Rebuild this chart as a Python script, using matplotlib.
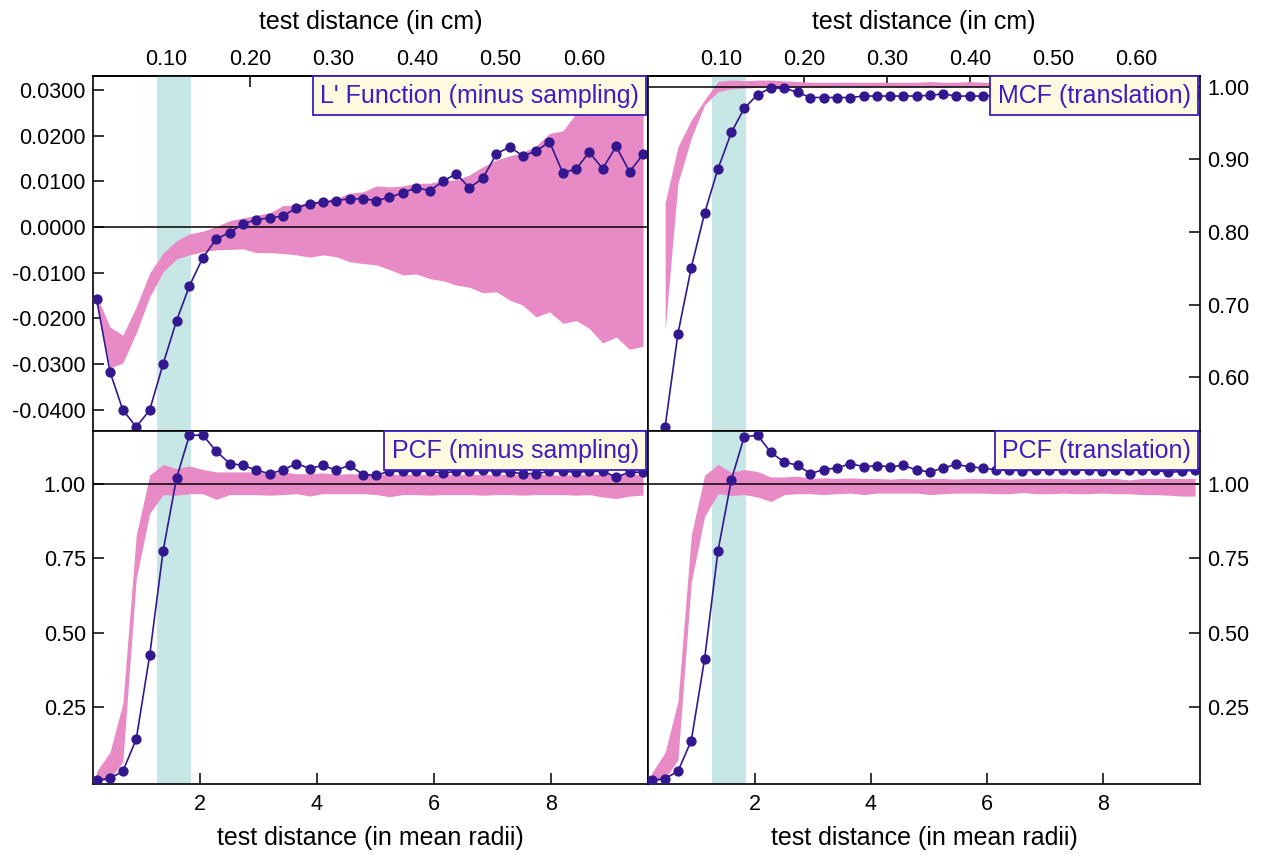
import numpy as np
import matplotlib
matplotlib.use('Agg')
import matplotlib.pyplot as plt
from matplotlib.ticker import FormatStrFormatter

plt.rcParams['font.family'] = ['Liberation Sans', 'DejaVu Sans']
plt.rcParams['axes.unicode_minus'] = False

# test distances (in mean radii)
radii = [0.23, 0.46, 0.68, 0.91, 1.14, 1.37, 1.60, 1.82, 2.05, 2.28,
         2.51, 2.74, 2.96, 3.19, 3.42, 3.65, 3.88, 4.10, 4.33, 4.56,
         4.79, 5.02, 5.24, 5.47, 5.70, 5.93, 6.16, 6.38, 6.61, 6.84,
         7.07, 7.30, 7.52, 7.75, 7.98, 8.21, 8.44, 8.66, 8.89, 9.12,
         9.35, 9.58]
CM_PER_RADIUS = 0.07
shade = (1.26, 1.855)

# L' function (minus sampling)
lfun = [-0.0157, -0.0317, -0.0401, -0.0438, -0.0401, -0.0300, -0.0205, -0.0129, -0.0067, -0.0026,
        -0.0012, 0.0007, 0.0016, 0.0020, 0.0024, 0.0042, 0.0051, 0.0054, 0.0058, 0.0062,
        0.0062, 0.0058, 0.0065, 0.0075, 0.0086, 0.0080, 0.0100, 0.0117, 0.0086, 0.0107,
        0.0160, 0.0176, 0.0156, 0.0166, 0.0187, 0.0118, 0.0128, 0.0164, 0.0128, 0.0177,
        0.0121, 0.0159]
lfun_hi = [-0.0150, -0.0219, -0.0237, -0.0175, -0.0101, -0.0057, -0.0030, -0.0015, -0.0009, 0.0001,
           0.0014, 0.0020, 0.0026, 0.0031, 0.0047, 0.0048, 0.0056, 0.0059, 0.0063, 0.0074,
           0.0077, 0.0090, 0.0088, 0.0090, 0.0096, 0.0096, 0.0102, 0.0103, 0.0114, 0.0132,
           0.0147, 0.0156, 0.0163, 0.0178, 0.0205, 0.0211, 0.0250, 0.0246, 0.0250, 0.0264,
           0.0275, 0.0275]
lfun_lo = [-0.0165, -0.0309, -0.0298, -0.0232, -0.0153, -0.0098, -0.0070, -0.0061, -0.0054, -0.0050,
           -0.0049, -0.0048, -0.0056, -0.0056, -0.0058, -0.0061, -0.0066, -0.0061, -0.0065, -0.0076,
           -0.0080, -0.0083, -0.0093, -0.0105, -0.0103, -0.0113, -0.0118, -0.0127, -0.0132, -0.0144,
           -0.0142, -0.0160, -0.0171, -0.0197, -0.0186, -0.0211, -0.0205, -0.0222, -0.0254, -0.0241,
           -0.0268, -0.0261]

# MCF (translation), starts at the second distance
mcf = [0.532, 0.660, 0.751, 0.826, 0.887, 0.937, 0.970, 0.989, 0.998, 0.998,
       0.992, 0.985, 0.985, 0.985, 0.985, 0.987, 0.987, 0.987, 0.987, 0.987,
       0.988, 0.990, 0.987, 0.987, 0.987, 0.988, 0.987, 0.988, 0.988, 0.987,
       0.988, 0.988, 0.987, 0.988, 0.988, 0.987, 0.988, 0.988, 0.987, 0.988,
       0.988]
mcf_hi = [0.840, 0.917, 0.954, 0.982, 1.007, 1.009, 1.008, 1.009, 1.009, 1.008,
          1.007, 1.006, 1.006, 1.006, 1.006, 1.006, 1.006, 1.006, 1.006, 1.006,
          1.007, 1.006, 1.006, 1.007, 1.006, 1.006, 1.006, 1.007, 1.006, 1.006,
          1.006, 1.007, 1.006, 1.006, 1.006, 1.006, 1.007, 1.006, 1.006, 1.006,
          1.006]
mcf_lo = [0.665, 0.867, 0.929, 0.975, 0.993, 0.997, 0.998, 0.999, 0.999, 0.999,
          0.999, 1.000, 0.999, 1.000, 1.000, 0.999, 1.000, 1.000, 0.999, 1.000,
          1.000, 0.999, 1.000, 1.000, 1.000, 0.999, 1.000, 1.000, 1.000, 0.999,
          1.000, 1.000, 1.000, 0.999, 1.000, 1.000, 1.000, 1.000, 0.999, 1.000,
          1.000]

# PCF (minus sampling)
pcf_ms = [0.006, 0.013, 0.036, 0.144, 0.425, 0.775, 1.019, 1.162, 1.162, 1.108,
          1.067, 1.061, 1.045, 1.033, 1.045, 1.067, 1.050, 1.061, 1.045, 1.061,
          1.030, 1.028, 1.041, 1.041, 1.041, 1.041, 1.035, 1.041, 1.041, 1.045,
          1.041, 1.038, 1.033, 1.033, 1.041, 1.041, 1.038, 1.041, 1.041, 1.022,
          1.038, 1.038]
pcf_ms_hi = [0.035, 0.100, 0.263, 0.827, 1.028, 1.064, 1.050, 1.059, 1.047, 1.039,
             1.039, 1.039, 1.039, 1.033, 1.039, 1.033, 1.033, 1.036, 1.031, 1.033,
             1.031, 1.030, 1.031, 1.030, 1.031, 1.030, 1.030, 1.031, 1.030, 1.030,
             1.031, 1.030, 1.030, 1.031, 1.030, 1.028, 1.030, 1.030, 1.031, 1.030,
             1.030, 1.030]
pcf_ms_lo = [0.000, 0.010, 0.068, 0.682, 0.900, 0.963, 0.961, 0.966, 0.966, 0.947,
             0.963, 0.963, 0.963, 0.961, 0.963, 0.966, 0.958, 0.966, 0.966, 0.966,
             0.966, 0.963, 0.956, 0.963, 0.963, 0.961, 0.963, 0.963, 0.963, 0.961,
             0.963, 0.963, 0.961, 0.963, 0.963, 0.963, 0.961, 0.963, 0.955, 0.950,
             0.958, 0.961]

# PCF (translation)
pcf_tr = [0.006, 0.012, 0.036, 0.139, 0.414, 0.775, 1.013, 1.156, 1.162, 1.104,
          1.072, 1.061, 1.033, 1.047, 1.052, 1.067, 1.056, 1.060, 1.056, 1.061,
          1.045, 1.039, 1.052, 1.064, 1.056, 1.052, 1.045, 1.045, 1.043, 1.045,
          1.045, 1.046, 1.045, 1.045, 1.043, 1.045, 1.045, 1.045, 1.045, 1.037,
          1.041, 1.045]
pcf_tr_hi = [0.030, 0.100, 0.270, 0.827, 1.028, 1.064, 1.037, 1.047, 1.040, 1.022,
             1.022, 1.025, 1.017, 1.019, 1.017, 1.019, 1.017, 1.017, 1.015, 1.017,
             1.015, 1.017, 1.017, 1.015, 1.017, 1.017, 1.017, 1.015, 1.017, 1.017,
             1.017, 1.017, 1.015, 1.017, 1.017, 1.017, 1.012, 1.017, 1.017, 1.017,
             1.017, 1.017]
pcf_tr_lo = [0.000, 0.012, 0.074, 0.670, 0.890, 0.966, 0.960, 0.963, 0.955, 0.940,
             0.963, 0.966, 0.966, 0.963, 0.966, 0.968, 0.963, 0.968, 0.968, 0.968,
             0.968, 0.963, 0.966, 0.968, 0.968, 0.968, 0.966, 0.966, 0.970, 0.966,
             0.966, 0.968, 0.966, 0.966, 0.968, 0.966, 0.966, 0.963, 0.963, 0.961,
             0.958, 0.958]

PINK = '#e88ac5'
TEAL = '#c7e6e6'
DOT = '#33178f'
LABEL = '#3b1fc4'
BOXFC = '#fff9e0'
TICKSIZE = 15.5
LABELSIZE = 18

fig = plt.figure(figsize=(12.62, 8.57), dpi=100)
xl, xr = 0.07346, 0.51347
wl, wr = 0.4400, 0.4374
yb, yt = 0.0846, 0.49708
hb, ht = 0.41249, 0.41424
ax_tl = fig.add_axes([xl, yt, wl, ht])
ax_tr = fig.add_axes([xr, yt, wr, ht])
ax_bl = fig.add_axes([xl, yb, wl, hb])
ax_br = fig.add_axes([xr, yb, wr, hb])


def panel(ax, xs, ys, lo, hi, ref, title):
    ax.axvspan(shade[0], shade[1], color=TEAL, lw=0, zorder=1)
    ax.fill_between(xs, lo, hi, color=PINK, lw=0, zorder=2)
    ax.axhline(ref, color='black', lw=1.1, zorder=3)
    ax.plot(xs, ys, '-o', color=DOT, lw=1.2, ms=6.4, zorder=4)
    ax.set_xlim(0.165, 9.665)
    for sp in ax.spines.values():
        sp.set_linewidth(1.2)
    ax.tick_params(direction='in', length=8, width=1.1, labelsize=TICKSIZE)
    # label box sits in the top right corner, text offset by the box pad
    ax.annotate(title, xy=(1, 1), xycoords='axes fraction', xytext=(-9, -8),
                textcoords='offset pixels', ha='right', va='top',
                fontsize=LABELSIZE, color=LABEL, zorder=10,
                bbox=dict(boxstyle='square,pad=0.3', fc=BOXFC, ec=LABEL, lw=1.3))


panel(ax_tl, radii, lfun, lfun_lo, lfun_hi, 0.0, "L' Function (minus sampling)")
panel(ax_tr, radii[1:], mcf, mcf_lo, mcf_hi, 1.0, "MCF (translation)")
panel(ax_bl, radii, pcf_ms, pcf_ms_lo, pcf_ms_hi, 1.0, "PCF (minus sampling)")
panel(ax_br, radii, pcf_tr, pcf_tr_lo, pcf_tr_hi, 1.0, "PCF (translation)")

ax_tl.set_ylim(-0.0447, 0.0331)
ax_tl.set_yticks([-0.04, -0.03, -0.02, -0.01, 0.0, 0.01, 0.02, 0.03])
ax_tl.yaxis.set_major_formatter(FormatStrFormatter('%.4f'))

ax_tr.set_ylim(0.526, 1.0146)
ax_tr.set_yticks([0.6, 0.7, 0.8, 0.9, 1.0])
ax_tr.yaxis.set_major_formatter(FormatStrFormatter('%.2f'))

for ax in (ax_bl, ax_br):
    ax.set_ylim(-0.008, 1.176)
    ax.set_yticks([0.25, 0.5, 0.75, 1.0])
    ax.yaxis.set_major_formatter(FormatStrFormatter('%.2f'))
    ax.set_xticks([2, 4, 6, 8])
    ax.tick_params(axis='x', pad=7)
    ax.set_xlabel('test distance (in mean radii)', fontsize=LABELSIZE, labelpad=8)

for ax in (ax_tl, ax_tr):
    ax.set_xticks([])
    top = ax.secondary_xaxis('top', functions=(lambda r: r * CM_PER_RADIUS,
                                               lambda c: c / CM_PER_RADIUS))
    top.set_xticks([0.1, 0.2, 0.3, 0.4, 0.5, 0.6])
    top.xaxis.set_major_formatter(FormatStrFormatter('%.2f'))
    top.tick_params(direction='in', length=8, width=1.1, labelsize=TICKSIZE, pad=4)
    top.spines['top'].set_linewidth(1.2)
    top.set_xlabel('test distance (in cm)', fontsize=LABELSIZE, labelpad=15)

for ax in (ax_tl, ax_bl):
    ax.tick_params(axis='y', left=True, right=False, pad=5)

for ax in (ax_tr, ax_br):
    ax.yaxis.tick_right()
    ax.tick_params(axis='y', left=False, right=True, pad=5)

fig.savefig('out.png', dpi=100)
